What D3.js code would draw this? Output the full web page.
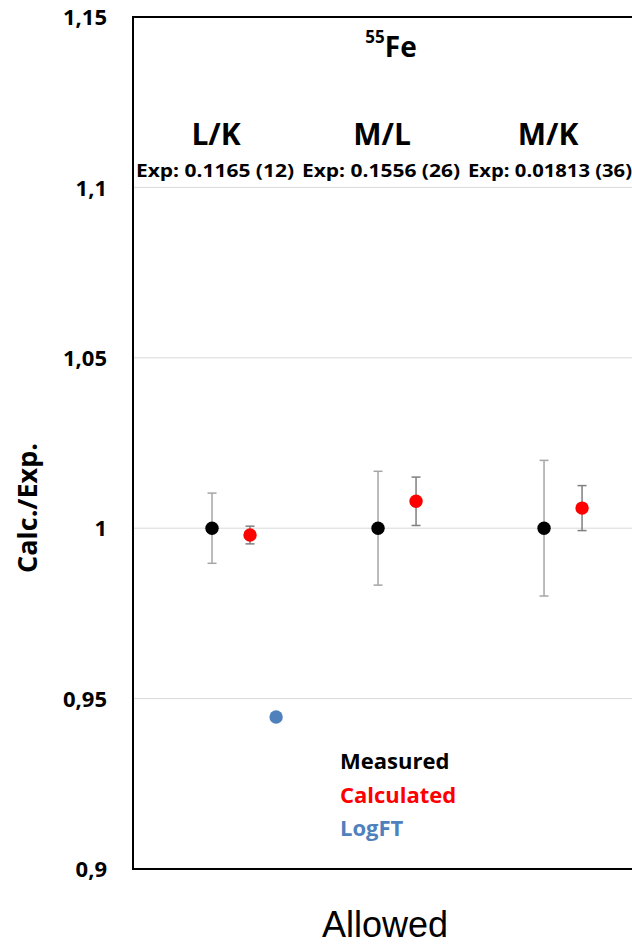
<!DOCTYPE html>
<html><head><meta charset="utf-8">
<script src="https://cdn.jsdelivr.net/npm/d3@7"></script>
<style>body{margin:0;background:#fff}svg{display:block}</style>
</head><body>
<script>
const categories = ["L/K", "M/L", "M/K"];
const expLabels = ["Exp: 0.1165 (12)", "Exp: 0.1556 (26)", "Exp: 0.01813 (36)"];
const measuredValues = [1.0, 1.0, 1.0];
const measuredErrors = [0.0103, 0.0167, 0.0199];
const calculatedValues = [0.998, 1.0079, 1.0059];
const calculatedErrors = [0.0026, 0.0071, 0.0066];
const logftValues = [0.9446];
const yTicks = [0.9, 0.95, 1.0, 1.05, 1.1, 1.15];
const legendItems = ["Measured", "Calculated", "LogFT"];
const legendColors = ["#000000", "#ff0000", "#4f81bd"];

const W = 632, H = 946;
const svg = d3.select("body").append("svg").attr("width", W).attr("height", H);
const pL = 133, pR = 637, pT = 17, pB = 869;
const FONT = "'Open Sans', sans-serif";

const y = d3.scaleLinear().domain([0.9, 1.15]).range([pB, pT]);
const x = d3.scaleLinear().domain([0.524, 3.56]).range([pL, pR]);
const offM = 0, offC = 0.229, offL = 0.386;

// gridlines
svg.append("g").selectAll("line").data(yTicks.filter(t => t > 0.9 && t < 1.15)).join("line")
  .attr("x1", pL).attr("x2", pR).attr("y1", d => y(d)).attr("y2", d => y(d))
  .attr("stroke", "#d9d9d9").attr("stroke-width", 1);

// frame
svg.append("rect").attr("x", pL).attr("y", pT).attr("width", pR - pL + 10).attr("height", pB - pT)
  .attr("fill", "none").attr("stroke", "#000").attr("stroke-width", 2);

// y axis labels
const yAxis = d3.axisLeft(y).tickValues(yTicks).tickSize(0).tickPadding(0)
  .tickFormat(d => d3.format(".2~f")(d).replace(".", ","));
const ya = svg.append("g").attr("transform", `translate(107,0)`).call(yAxis);
ya.select(".domain").remove();
ya.selectAll("text").attr("font-family", FONT).attr("font-weight", "bold")
  .attr("font-size", 22).attr("fill", "#000").attr("dy", "0.35em");

// axis title
svg.append("text").attr("transform", `translate(37,508) rotate(-90)`).attr("text-anchor", "middle")
  .attr("font-family", FONT).attr("font-weight", "bold").attr("font-size", 27)
  .text("Calc./Exp.");

svg.append("text").attr("x", 385).attr("y", 937).attr("text-anchor", "middle")
  .attr("font-family", "'Liberation Sans', Arial, sans-serif").attr("font-size", 36).text("Allowed");

// title 55Fe
const t = svg.append("text").attr("x", 391).attr("y", 57).attr("text-anchor", "middle")
  .attr("font-family", FONT).attr("font-weight", "bold");
t.append("tspan").attr("font-size", 17).attr("dy", -14).text("55");
t.append("tspan").attr("font-size", 28).attr("dy", 14).text("Fe");

// category labels
const cats = svg.append("g");
cats.selectAll("text.cat").data(categories).join("text").attr("class", "cat")
  .attr("x", (d, i) => x(i + 1) + 4).attr("y", 145).attr("text-anchor", "middle")
  .attr("font-family", FONT).attr("font-weight", "bold").attr("font-size", 30).text(d => d);
cats.selectAll("text.exp").data(expLabels).join("text").attr("class", "exp")
  .attr("x", (d, i) => x(i + 1) + 3 + (i === 2 ? 3 : 0)).attr("y", 177).attr("text-anchor", "middle")
  .attr("font-family", FONT).attr("font-weight", "bold").attr("font-size", 17)
  .attr("textLength", (d, i) => i === 2 ? 164 : 158).attr("lengthAdjust", "spacingAndGlyphs").text(d => d);

function errBars(vals, errs, off, color) {
  const g = svg.append("g").attr("stroke", color).attr("stroke-width", 1.5);
  vals.forEach((v, i) => {
    const cx = x(i + 1 + off);
    g.append("line").attr("x1", cx).attr("x2", cx).attr("y1", y(v - errs[i])).attr("y2", y(v + errs[i]));
    [v - errs[i], v + errs[i]].forEach(e => g.append("line").attr("x1", cx - 4.5).attr("x2", cx + 4.5).attr("y1", y(e)).attr("y2", y(e)));
  });
}
errBars(measuredValues, measuredErrors, offM, "#a6a6a6");
errBars(calculatedValues, calculatedErrors, offC, "#7f7f7f");

svg.append("g").selectAll("circle").data(measuredValues).join("circle")
  .attr("cx", (d, i) => x(i + 1 + offM)).attr("cy", d => y(d)).attr("r", 6.7).attr("fill", legendColors[0]);
svg.append("g").selectAll("circle").data(calculatedValues).join("circle")
  .attr("cx", (d, i) => x(i + 1 + offC)).attr("cy", d => y(d)).attr("r", 6.7).attr("fill", legendColors[1]);
svg.append("g").selectAll("circle").data(logftValues).join("circle")
  .attr("cx", (d, i) => x(i + 1 + offL)).attr("cy", d => y(d)).attr("r", 6.7).attr("fill", legendColors[2]);

// legend
svg.append("g").selectAll("text").data(legendItems).join("text")
  .attr("x", 340).attr("y", (d, i) => 769 + i * 33.5)
  .attr("font-family", FONT).attr("font-weight", "bold").attr("font-size", 22)
  .attr("fill", (d, i) => legendColors[i]).text(d => d);
</script>
</body></html>
